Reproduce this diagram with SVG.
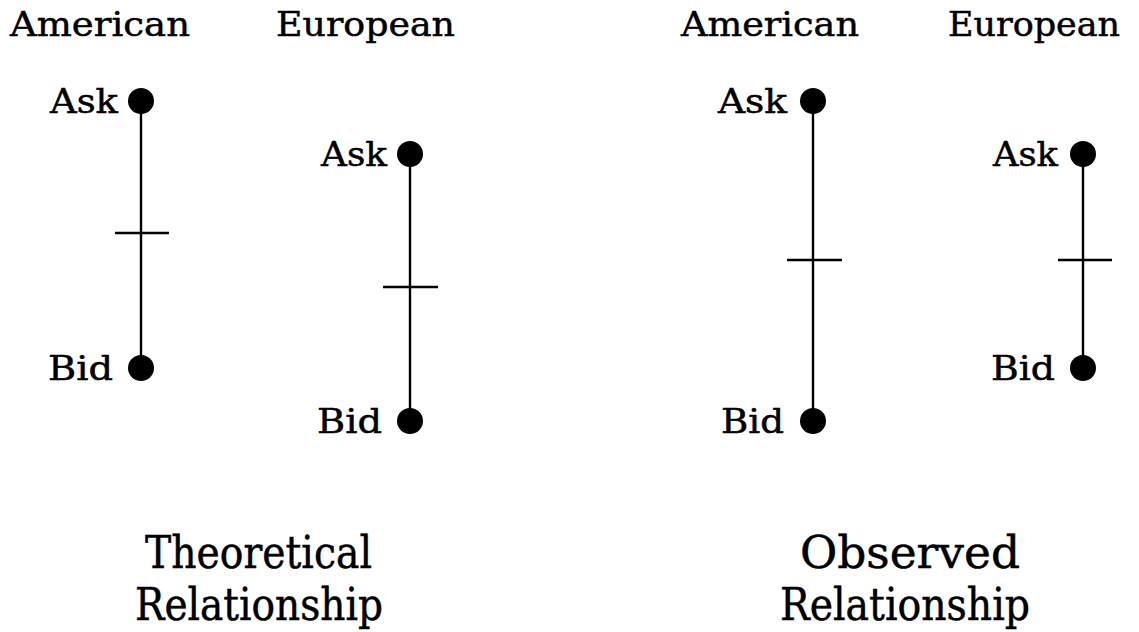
<svg xmlns="http://www.w3.org/2000/svg" width="1139" height="632" viewBox="0 0 1139 632">
<style>
text{font-family:"DejaVu Serif","Liberation Serif",serif;fill:#000;stroke:#000;stroke-width:0.5}
.h{font-size:34px}
.l{font-size:34px}
.t{font-size:44px}
.bar{stroke:#000;stroke-width:2.4;fill:none}
.dot{fill:#000}
</style>
<rect width="1139" height="632" fill="#fff"/>
<g id="headers">
<text class="h" x="10" y="36" textLength="180" lengthAdjust="spacingAndGlyphs">American</text>
<text class="h" x="276" y="36" textLength="179" lengthAdjust="spacingAndGlyphs">European</text>
<text class="h" x="681" y="36" textLength="178" lengthAdjust="spacingAndGlyphs">American</text>
<text class="h" x="948" y="36" textLength="172" lengthAdjust="spacingAndGlyphs">European</text>
</g>
<g id="connectors">
<line class="bar" x1="141" y1="101" x2="141" y2="368"/>
<line class="bar" x1="115" y1="233" x2="169" y2="233"/>
<line class="bar" x1="410" y1="154" x2="410" y2="421"/>
<line class="bar" x1="383" y1="287" x2="438" y2="287"/>
<line class="bar" x1="813" y1="101" x2="813" y2="421"/>
<line class="bar" x1="787" y1="260" x2="842" y2="260"/>
<line class="bar" x1="1083" y1="154" x2="1083" y2="368"/>
<line class="bar" x1="1058" y1="260" x2="1112" y2="260"/>
</g>
<g id="am-theo-ask"><circle class="dot" cx="141" cy="101" r="13"/><text class="l" x="50" y="113" textLength="68" lengthAdjust="spacingAndGlyphs">Ask</text></g>
<g id="am-theo-bid"><circle class="dot" cx="141" cy="368" r="13"/><text class="l" x="48" y="380" textLength="65" lengthAdjust="spacingAndGlyphs">Bid</text></g>
<g id="eu-theo-ask"><circle class="dot" cx="410" cy="154" r="13"/><text class="l" x="321" y="166" textLength="66" lengthAdjust="spacingAndGlyphs">Ask</text></g>
<g id="eu-theo-bid"><circle class="dot" cx="410" cy="421" r="13"/><text class="l" x="317" y="433" textLength="65" lengthAdjust="spacingAndGlyphs">Bid</text></g>
<g id="am-obs-ask"><circle class="dot" cx="813" cy="101" r="13"/><text class="l" x="718" y="113" textLength="69" lengthAdjust="spacingAndGlyphs">Ask</text></g>
<g id="am-obs-bid"><circle class="dot" cx="813" cy="421" r="13"/><text class="l" x="721" y="433" textLength="63" lengthAdjust="spacingAndGlyphs">Bid</text></g>
<g id="eu-obs-ask"><circle class="dot" cx="1083" cy="154" r="13"/><text class="l" x="993" y="166" textLength="65" lengthAdjust="spacingAndGlyphs">Ask</text></g>
<g id="eu-obs-bid"><circle class="dot" cx="1083" cy="368" r="13"/><text class="l" x="991" y="380" textLength="64" lengthAdjust="spacingAndGlyphs">Bid</text></g>
<g id="captions">
<text class="t" x="145" y="568" textLength="227" lengthAdjust="spacingAndGlyphs">Theoretical</text>
<text class="t" x="135" y="620" textLength="248" lengthAdjust="spacingAndGlyphs">Relationship</text>
<text class="t" x="800" y="568" textLength="220" lengthAdjust="spacingAndGlyphs">Observed</text>
<text class="t" x="780" y="620" textLength="250" lengthAdjust="spacingAndGlyphs">Relationship</text>
</g>
</svg>
